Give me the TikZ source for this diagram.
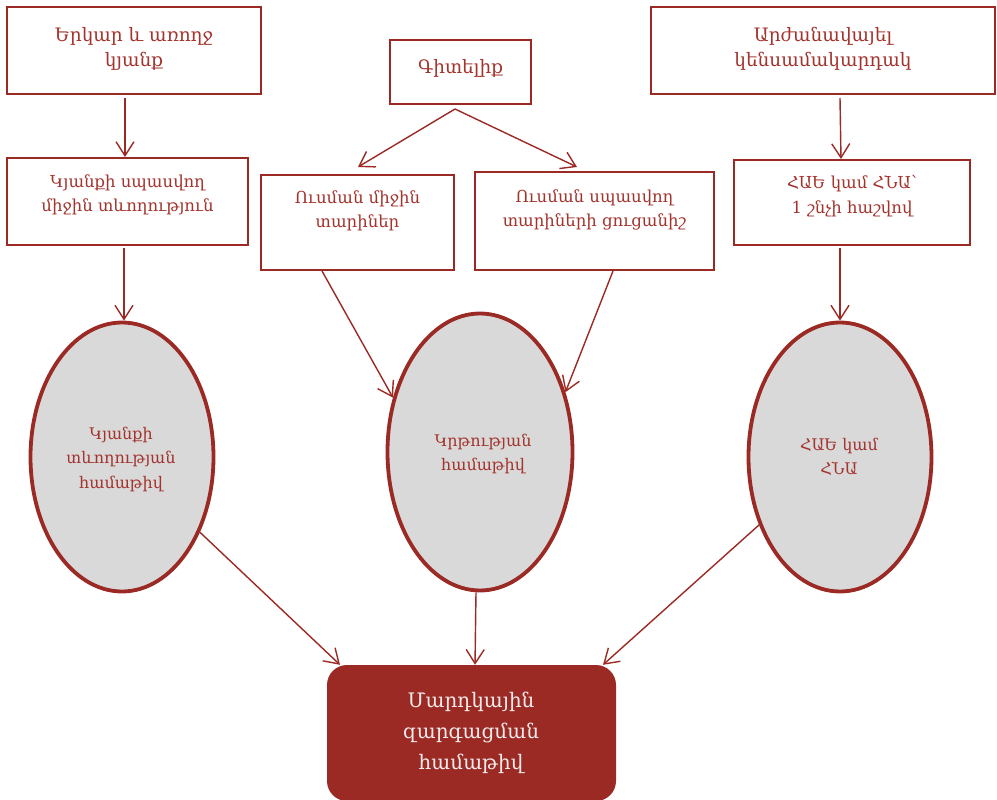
\documentclass[tikz,border=0pt]{standalone}
\usepackage{fontspec}
\setmainfont{DejaVu Serif}
\usetikzlibrary{arrows.meta,shapes.geometric}
\definecolor{dred}{HTML}{9B2A24}
\definecolor{tred}{HTML}{A3332D}
\definecolor{egray}{HTML}{D9D9D9}
\definecolor{wtext}{HTML}{F4ECEC}
\begin{document}
\begin{tikzpicture}[x=1pt,y=-1pt,
  box/.style={draw=dred, line width=2pt, fill=white, inner sep=0pt},
  btext/.style={text=tred, align=center, inner sep=0pt, font=\fontsize{16.5}{24.5}\selectfont},
  bigtext/.style={btext, font=\fontsize{18.5}{25}\selectfont},
  oval/.style={ellipse, draw=dred, line width=3.8pt, fill=egray, inner sep=0pt},
  otext/.style={text=tred, align=center, inner sep=0pt, font=\fontsize{16}{24.5}\selectfont},
  arr/.style={draw=dred, line width=1.4pt, -{Straight Barb[length=14pt,width=18pt]}}]
\useasboundingbox (0,0) rectangle (997,800);
% boxes
\node[box, minimum width=254pt, minimum height=87pt] (b1) at (134,50.5) {};
\node[bigtext] (t1) at (134,49) {Երկար և առողջ\\կյանք};
\node[box, minimum width=141pt, minimum height=64pt] (b2) at (460.5,72) {};
\node[bigtext] (t2) at (460.5,68) {Գիտելիք};
\node[box, minimum width=344pt, minimum height=87pt] (b3) at (823,50.5) {};
\node[bigtext] (t3) at (823,48.5) {Արժանավայել\\կենսամակարդակ};
\node[box, minimum width=241pt, minimum height=87pt] (b4) at (127.5,201.5) {};
\node[btext] (t4) at (127.5,195) {Կյանքի սպասվող\\միջին տևողություն};
\node[box, minimum width=193pt, minimum height=95pt] (b5) at (357.5,222.5) {};
\node[btext] (t5) at (357.5,211) {Ուսման միջին\\տարիներ};
\node[box, minimum width=239pt, minimum height=98pt] (b6) at (594.5,221) {};
\node[btext] (t6) at (594.5,210) {Ուսման սպասվող\\տարիների ցուցանիշ};
\node[box, minimum width=236pt, minimum height=85pt] (b7) at (852,202.5) {};
\node[btext] (t7) at (852,196) {ՀԱԵ կամ ՀՆԱ՝\\1 շնչի հաշվով};
% ellipses
\node[oval, minimum width=183pt, minimum height=269pt] (e1) at (122,457) {};
\node[otext] (o1) at (121,459) {Կյանքի\\տևողության\\համաթիվ};
\node[oval, minimum width=185pt, minimum height=277pt] (e2) at (480,452) {};
\node[otext] (o2) at (483,454) {Կրթության\\համաթիվ};
\node[oval, minimum width=183pt, minimum height=269pt] (e3) at (840,457) {};
\node[otext] (o3) at (839,457) {ՀԱԵ կամ\\ՀՆԱ};
% bottom
\node[fill=dred, rounded corners=20pt, minimum width=289pt, minimum height=136pt, inner sep=0pt] (m) at (471.5,733) {};
\node[text=wtext, align=center, inner sep=0pt, font=\fontsize{20}{31}\selectfont] (mt) at (471,733) {Մարդկային\\զարգացման\\համաթիվ};
% connectors
\coordinate (s2) at (455,109);
\coordinate (l5) at (358,167);
\coordinate (r6) at (577,167);
\draw[arr] (b1.south -| 125,0) ++(0,3) -- (b4.north -| 125,0);
\draw[arr] (s2) -- (l5);
\draw[arr] (s2) -- (r6);
\draw[arr] (b3.south -| 840,0) ++(0,3) -- (b7.north -| 841,0);
\draw[arr] (b4.south -| 124,0) ++(0,2) -- (e1.north -| 124,0);
\draw[arr] (b5.south -| 322,0) -- (e2.148);
\draw[arr] (b6.south -| 613,0) -- (e2.35);
\draw[arr] (b7.south -| 840,0) ++(0,2) -- (e3.north);
\draw[arr] (e1.-44) -- (m.north west -| 340,0);
\draw[arr] (e2.south -| 476,0) -- (m.north -| 475,0);
\draw[arr] (e3.-140) -- (m.north east -| 603,0);
\end{tikzpicture}
\end{document}
